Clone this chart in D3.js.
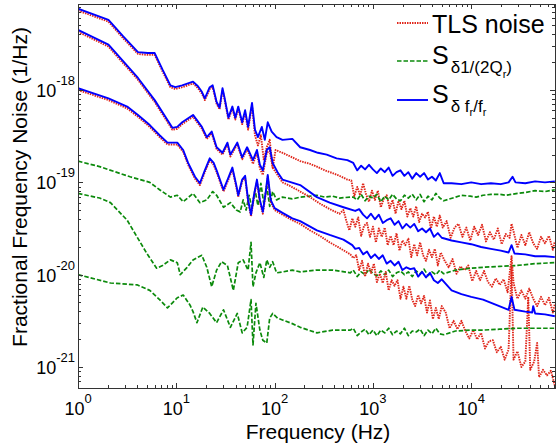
<!DOCTYPE html>
<html>
<head>
<meta charset="utf-8">
<script src="https://d3js.org/d3.v7.min.js"></script>
<style>
  body { margin: 0; background: #fff; }
  svg { display: block; font-family: Arial, "Liberation Sans", sans-serif; }
</style>
</head>
<body>
<div id="chart"></div>
<script>
// Values, stored as [log10(f / Hz), log10(S / (1/Hz))]

// upper data set
var blue1 = [[0.00,-17.12],[0.31,-17.24],[0.46,-17.42],[0.61,-17.59],[0.71,-17.60],[0.78,-17.60],[0.86,-17.78],[0.94,-17.95],[0.99,-17.97],[1.06,-17.95],[1.17,-17.91],[1.22,-17.96],[1.26,-18.02],[1.29,-18.09],[1.34,-17.97],[1.37,-17.95],[1.41,-18.13],[1.44,-18.19],[1.47,-17.98],[1.49,-18.08],[1.53,-18.30],[1.57,-18.18],[1.60,-18.30],[1.63,-18.18],[1.67,-18.35],[1.70,-18.22],[1.73,-18.40],[1.77,-18.14],[1.80,-18.43],[1.83,-18.51],[1.87,-18.40],[1.90,-18.54],[1.93,-18.35],[1.97,-18.45],[2.02,-18.51],[2.08,-18.54],[2.18,-18.53],[2.26,-18.62],[2.36,-18.65],[2.44,-18.68],[2.53,-18.70],[2.63,-18.74],[2.74,-18.76],
  [2.80,-18.79],[2.84,-18.87],[2.88,-18.82],[2.92,-18.86],[2.96,-18.81],[3.00,-18.86],[3.04,-18.90],[3.08,-18.85],[3.12,-18.89],[3.16,-18.84],[3.20,-18.93],[3.24,-18.89],[3.28,-18.87],[3.32,-18.93],[3.36,-18.89],[3.40,-18.96],[3.44,-18.90],[3.48,-18.94],[3.52,-18.90],[3.56,-18.97],[3.60,-18.94],[3.64,-18.98],[3.68,-18.90],[3.72,-19.01],
  [3.80,-19.01],[3.90,-19.02],[4.00,-19.00],[4.10,-19.02],[4.20,-19.01],[4.30,-19.02],[4.38,-19.00],[4.42,-18.94],[4.45,-19.00],[4.55,-19.01],[4.65,-18.99],[4.75,-19.00],[4.85,-18.99]];

var red1 = [[0.00,-17.14],[0.31,-17.26],[0.46,-17.44],[0.61,-17.61],[0.71,-17.62],[0.78,-17.62],[0.86,-17.80],[0.94,-17.97],[0.99,-17.99],[1.06,-17.97],[1.17,-17.93],[1.22,-17.98],[1.26,-18.04],[1.29,-18.11],[1.34,-17.99],[1.37,-17.97],[1.41,-18.15],[1.44,-18.21],[1.47,-18.00],[1.49,-18.10],[1.53,-18.32],[1.57,-18.20],[1.60,-18.32],[1.63,-18.20],[1.67,-18.37],[1.70,-18.25],[1.73,-18.43],
  [1.77,-18.17],[1.80,-18.49],[1.83,-18.60],[1.86,-18.49],[1.89,-18.76],[1.92,-18.62],[1.95,-18.54],[1.98,-18.84],[2.01,-18.65],[2.08,-18.68],[2.18,-18.73],[2.26,-18.77],[2.36,-18.80],[2.43,-18.83],[2.51,-18.87],[2.59,-18.90],[2.66,-18.93],[2.74,-18.97],
  [2.78,-18.98],[2.81,-19.15],[2.84,-19.05],[2.87,-19.14],[2.90,-19.01],[2.93,-19.13],[2.96,-19.21],[2.99,-19.09],[3.02,-19.19],[3.05,-19.09],[3.08,-19.27],[3.11,-19.18],[3.14,-19.14],[3.17,-19.28],[3.20,-19.19],[3.23,-19.34],[3.26,-19.20],[3.29,-19.29],[3.32,-19.20],[3.35,-19.37],[3.38,-19.28],[3.41,-19.37],[3.44,-19.26],[3.47,-19.43],[3.50,-19.34],[3.53,-19.38],[3.56,-19.32],[3.59,-19.50],[3.62,-19.37],[3.65,-19.48],[3.68,-19.36],[3.71,-19.49],
  [3.75,-19.42],[3.79,-19.60],[3.83,-19.49],[3.87,-19.45],[3.91,-19.59],[3.95,-19.49],[3.99,-19.63],[4.03,-19.48],[4.07,-19.57],[4.11,-19.46],[4.15,-19.64],[4.19,-19.54],[4.23,-19.62],[4.27,-19.50],[4.31,-19.67],[4.35,-19.56],[4.39,-19.60],[4.41,-19.45],[4.43,-19.53],[4.47,-19.71],[4.51,-19.57],[4.55,-19.68],[4.59,-19.54],[4.63,-19.66],[4.67,-19.72],[4.71,-19.59],[4.75,-19.66],[4.79,-19.58],[4.83,-19.73],[4.85,-19.64]];

var green1 = [[0.00,-18.77],[0.22,-18.83],[0.53,-18.94],[0.73,-19.00],[0.83,-19.08],[0.94,-19.16],[1.01,-19.14],[1.07,-19.21],[1.17,-19.12],[1.24,-19.22],[1.31,-19.19],[1.37,-19.10],[1.41,-19.14],[1.48,-19.27],[1.55,-19.22],[1.61,-19.30],[1.65,-19.32],[1.68,-19.19],[1.71,-19.30],[1.74,-19.14],[1.77,-19.28],[1.80,-19.08],[1.83,-19.25],[1.86,-19.01],[1.89,-19.23],[1.92,-19.04],[1.95,-19.26],[1.98,-19.10],[2.02,-19.19],[2.08,-19.16],[2.18,-19.18],[2.26,-19.16],[2.36,-19.15],[2.43,-19.14],[2.51,-19.16],[2.59,-19.15],[2.66,-19.17],[2.77,-19.16],
  [2.80,-19.16],[2.84,-19.19],[2.88,-19.13],[2.92,-19.20],[2.96,-19.15],[3.00,-19.17],[3.04,-19.13],[3.08,-19.21],[3.12,-19.15],[3.16,-19.19],[3.20,-19.13],[3.24,-19.18],[3.28,-19.20],[3.32,-19.14],[3.36,-19.17],[3.40,-19.13],[3.44,-19.19],[3.48,-19.13],[3.52,-19.21],[3.56,-19.15],[3.60,-19.19],[3.64,-19.12],[3.68,-19.17],[3.72,-19.20],
  [3.84,-19.16],[3.90,-19.14],[3.99,-19.15],[4.05,-19.16],[4.12,-19.14],[4.20,-19.13],[4.29,-19.13],[4.35,-19.14],[4.47,-19.12],[4.55,-19.11],[4.65,-19.09],[4.75,-19.10],[4.85,-19.08]];

// middle data set
var blue2 = [[0.00,-17.35],[0.31,-17.51],[0.61,-17.87],[0.78,-18.11],[0.96,-18.41],[1.01,-18.40],[1.06,-18.35],[1.17,-18.27],[1.26,-18.40],[1.31,-18.51],[1.36,-18.45],[1.41,-18.62],[1.47,-18.68],[1.52,-18.57],[1.55,-18.70],[1.62,-18.57],[1.67,-18.73],[1.72,-18.62],[1.78,-18.76],[1.82,-18.65],[1.85,-18.81],[1.88,-18.87],[1.92,-18.65],[1.95,-18.62],[1.98,-18.79],[2.03,-18.89],[2.08,-18.97],[2.26,-19.03],[2.43,-19.16],[2.56,-19.22],[2.70,-19.27],[2.82,-19.31],
  [2.86,-19.29],[2.90,-19.35],[2.94,-19.39],[2.98,-19.34],[3.02,-19.40],[3.06,-19.35],[3.10,-19.44],[3.14,-19.41],[3.18,-19.39],[3.22,-19.46],[3.26,-19.42],[3.30,-19.50],[3.34,-19.45],[3.38,-19.49],[3.42,-19.45],[3.46,-19.53],[3.50,-19.50],[3.54,-19.54],[3.58,-19.50],[3.62,-19.59],[3.66,-19.55],[3.70,-19.60],
  [3.80,-19.63],[3.90,-19.65],[4.00,-19.67],[4.10,-19.70],[4.20,-19.72],[4.30,-19.74],[4.38,-19.76],[4.41,-19.68],[4.44,-19.77],[4.55,-19.78],[4.65,-19.80],[4.75,-19.80],[4.85,-19.81]];

var red2 = [[0.00,-17.37],[0.31,-17.53],[0.61,-17.89],[0.78,-18.13],[0.96,-18.43],[1.01,-18.42],[1.06,-18.37],[1.17,-18.29],[1.26,-18.42],[1.31,-18.53],[1.36,-18.47],[1.41,-18.64],[1.47,-18.70],[1.52,-18.59],[1.55,-18.72],[1.62,-18.59],[1.67,-18.75],[1.72,-18.64],[1.78,-18.80],[1.82,-18.68],[1.85,-18.85],[1.88,-18.92],[1.92,-18.68],[1.95,-18.66],[1.98,-18.84],[2.03,-18.92],[2.08,-19.00],
  [2.16,-19.04],[2.26,-19.10],[2.36,-19.16],[2.46,-19.23],[2.56,-19.29],[2.66,-19.34],
  [2.70,-19.30],[2.73,-19.42],[2.76,-19.52],[2.79,-19.39],[2.82,-19.48],[2.85,-19.38],[2.88,-19.58],[2.91,-19.47],[2.94,-19.44],[2.97,-19.59],[3.00,-19.48],[3.03,-19.65],[3.06,-19.50],[3.09,-19.59],[3.12,-19.49],[3.15,-19.68],[3.18,-19.58],[3.21,-19.68],[3.24,-19.55],[3.27,-19.74],[3.30,-19.63],[3.33,-19.68],[3.36,-19.61],[3.39,-19.81],[3.42,-19.67],[3.45,-19.79],[3.48,-19.65],[3.51,-19.79],[3.54,-19.85],[3.57,-19.73],[3.60,-19.81],[3.63,-19.72],[3.66,-19.90],[3.69,-19.76],
  [3.73,-19.85],[3.77,-19.92],[3.81,-19.83],[3.85,-19.99],[3.89,-19.91],[3.93,-19.95],[3.97,-19.90],[4.01,-20.07],[4.05,-19.96],[4.09,-20.06],[4.13,-19.96],[4.17,-20.08],[4.21,-20.13],[4.25,-20.04],[4.29,-20.11],[4.33,-20.05],[4.37,-20.19],[4.41,-19.80],[4.43,-20.09],[4.47,-20.26],[4.51,-20.17],[4.55,-20.26],[4.59,-20.15],[4.63,-20.26],[4.67,-20.34],[4.71,-20.24],[4.75,-20.33],[4.79,-20.25],[4.83,-20.41],[4.85,-20.32]];

var green2 = [[0.00,-19.12],[0.22,-19.17],[0.33,-19.22],[0.50,-19.41],[0.60,-19.59],[0.70,-19.77],[0.80,-19.93],[0.86,-19.90],[0.94,-19.84],[1.01,-19.87],[1.04,-20.00],[1.11,-19.92],[1.17,-19.84],[1.26,-19.79],[1.31,-19.92],[1.36,-20.13],[1.41,-19.95],[1.46,-19.86],[1.52,-19.90],[1.58,-20.17],[1.63,-19.87],[1.68,-19.84],[1.73,-19.95],[1.76,-19.65],[1.78,-20.13],[1.81,-19.98],[1.85,-19.87],[1.89,-20.03],[1.92,-19.84],[1.95,-19.92],[1.98,-19.86],[2.02,-19.98],[2.08,-19.97],[2.18,-19.95],[2.26,-19.97],[2.43,-19.95],[2.59,-19.95],[2.77,-19.98],
  [2.80,-19.95],[2.84,-20.02],[2.88,-19.97],[2.92,-20.00],[2.96,-19.94],[3.00,-19.99],[3.04,-20.01],[3.08,-19.96],[3.12,-20.00],[3.16,-19.95],[3.20,-20.02],[3.24,-19.98],[3.28,-19.96],[3.32,-20.00],[3.36,-19.97],[3.40,-20.02],[3.44,-19.96],[3.48,-19.99],[3.52,-19.94],[3.56,-20.01],[3.60,-19.97],[3.64,-20.00],[3.68,-19.95],[3.72,-19.99],
  [3.84,-19.95],[3.99,-19.93],[4.12,-19.92],[4.29,-19.91],[4.47,-19.90],[4.65,-19.88],[4.85,-19.87]];

// lower data set
var blue3 = [[0.00,-17.98],[0.31,-18.09],[0.50,-18.18],[0.61,-18.27],[0.73,-18.38],[0.83,-18.49],[0.91,-18.57],[1.01,-18.57],[1.07,-18.65],[1.12,-18.79],[1.19,-18.94],[1.24,-19.01],[1.29,-18.87],[1.34,-18.74],[1.38,-18.79],[1.41,-18.87],[1.48,-19.08],[1.53,-18.95],[1.57,-18.84],[1.61,-19.03],[1.63,-19.14],[1.67,-18.97],[1.70,-18.93],[1.73,-19.19],[1.76,-19.35],[1.79,-19.14],[1.82,-18.97],[1.85,-19.19],[1.88,-19.32],[1.91,-19.10],[1.93,-18.92],[1.96,-19.19],[2.00,-19.28],[2.08,-19.33],[2.18,-19.39],[2.26,-19.42],[2.43,-19.52],[2.56,-19.57],[2.70,-19.62],[2.79,-19.68],
  [2.82,-19.72],[2.86,-19.71],[2.90,-19.78],[2.94,-19.75],[2.98,-19.82],[3.02,-19.78],[3.06,-19.83],[3.10,-19.79],[3.14,-19.88],[3.18,-19.85],[3.22,-19.90],[3.26,-19.86],[3.30,-19.95],[3.34,-19.92],[3.38,-19.94],[3.42,-19.93],[3.46,-20.02],[3.50,-19.97],[3.54,-20.03],[3.58,-19.98],[3.62,-20.06],[3.66,-20.09],[3.70,-20.05],
  [3.80,-20.17],[3.90,-20.21],[4.00,-20.24],[4.12,-20.27],[4.26,-20.33],[4.38,-20.38],[4.41,-20.24],[4.44,-20.38],[4.55,-20.40],[4.62,-20.41],[4.63,-20.34],[4.65,-20.42],[4.75,-20.43],[4.85,-20.45]];

var red3 = [[0.00,-18.00],[0.31,-18.11],[0.50,-18.20],[0.61,-18.29],[0.73,-18.40],[0.83,-18.51],[0.91,-18.59],[1.01,-18.59],[1.07,-18.67],[1.12,-18.81],[1.19,-18.96],[1.24,-19.03],[1.29,-18.89],[1.34,-18.76],[1.38,-18.81],[1.41,-18.89],[1.48,-19.10],[1.53,-18.97],[1.57,-18.86],[1.61,-19.05],[1.63,-19.16],[1.67,-18.99],[1.70,-18.95],[1.73,-19.21],[1.76,-19.37],[1.79,-19.16],[1.82,-18.99],[1.85,-19.21],[1.88,-19.34],[1.91,-19.12],[1.93,-18.94],[1.96,-19.21],[2.00,-19.30],[2.08,-19.35],[2.18,-19.41],[2.26,-19.45],
  [2.36,-19.52],[2.46,-19.58],[2.56,-19.65],[2.66,-19.71],[2.77,-19.78],
  [2.80,-19.82],[2.83,-19.79],[2.86,-19.95],[2.89,-19.85],[2.92,-20.02],[2.95,-19.88],[2.98,-19.98],[3.01,-19.88],[3.04,-20.08],[3.07,-19.99],[3.10,-20.09],[3.13,-19.97],[3.16,-20.17],[3.19,-20.06],[3.22,-20.12],[3.25,-20.06],[3.28,-20.26],[3.31,-20.13],[3.34,-20.26],[3.37,-20.12],[3.40,-20.27],[3.43,-20.34],[3.46,-20.22],[3.49,-20.31],[3.52,-20.23],[3.55,-20.41],[3.58,-20.28],[3.61,-20.48],[3.64,-20.36],[3.67,-20.48],[3.70,-20.34],
  [3.74,-20.41],[3.78,-20.58],[3.82,-20.50],[3.86,-20.59],[3.90,-20.50],[3.94,-20.61],[3.98,-20.69],[4.02,-20.60],[4.06,-20.70],[4.10,-20.63],[4.14,-20.80],[4.18,-20.72],[4.22,-20.71],[4.26,-20.84],[4.30,-20.78],[4.34,-20.92],[4.38,-20.81],[4.41,-19.90],[4.43,-20.92],[4.47,-20.83],[4.51,-21.00],[4.55,-20.94],[4.58,-20.24],[4.60,-21.03],[4.64,-20.94],[4.67,-20.74],[4.69,-21.11],[4.73,-21.03],[4.77,-21.09],[4.81,-21.04],[4.85,-21.20]];

var green3 = [[0.00,-20.00],[0.33,-20.09],[0.60,-20.11],[0.73,-20.17],[0.83,-20.27],[0.91,-20.36],[1.01,-20.25],[1.07,-20.22],[1.14,-20.33],[1.17,-20.40],[1.21,-20.52],[1.27,-20.35],[1.34,-20.42],[1.41,-20.52],[1.48,-20.38],[1.55,-20.57],[1.62,-20.42],[1.67,-20.63],[1.72,-20.57],[1.76,-20.27],[1.78,-20.76],[1.81,-20.31],[1.85,-20.60],[1.88,-20.71],[1.92,-20.74],[1.95,-20.47],[1.98,-20.42],[2.03,-20.47],[2.08,-20.49],[2.18,-20.53],[2.26,-20.57],[2.43,-20.63],[2.59,-20.60],[2.77,-20.60],
  [2.80,-20.58],[2.84,-20.66],[2.88,-20.62],[2.92,-20.59],[2.96,-20.65],[3.00,-20.60],[3.04,-20.66],[3.08,-20.60],[3.12,-20.63],[3.16,-20.58],[3.20,-20.65],[3.24,-20.61],[3.28,-20.64],[3.32,-20.58],[3.36,-20.66],[3.40,-20.61],[3.44,-20.62],[3.48,-20.59],[3.52,-20.66],[3.56,-20.60],[3.60,-20.64],[3.64,-20.58],[3.68,-20.64],[3.72,-20.65],
  [3.84,-20.61],[3.99,-20.60],[4.12,-20.60],[4.29,-20.59],[4.47,-20.58],[4.65,-20.58],[4.85,-20.58]];

// axes
var xDomain = [1, 7.11e4];
var yDomain = [5.93e-22, 8.53e-18];
var xMajor = [1, 10, 100, 1000, 10000];
var xExponents = ["0", "1", "2", "3", "4"];
var yMajor = [1e-21, 1e-20, 1e-19, 1e-18];
var yExponents = ["-21", "-20", "-19", "-18"];
var legendNames = ["TLS noise", "S_d1/(2Q_r)", "S_dfr/fr"];

// SVG size and margins
var svgWidth = 557;
var svgHeight = 447;
var margin = { top: 4, right: 2, bottom: 59, left: 78 };
var width = svgWidth - margin.left - margin.right;
var height = svgHeight - margin.top - margin.bottom;

var svg = d3.select("#chart")
  .append("svg")
  .attr("width", svgWidth)
  .attr("height", svgHeight);

var chartGroup = svg.append("g")
  .attr("transform", `translate(${margin.left}, ${margin.top})`);

var xScale = d3.scaleLog().domain(xDomain).range([0, width]);
var yScale = d3.scaleLog().domain(yDomain).range([height, 0]);

var xMinor = xScale.ticks().filter(v => xMajor.indexOf(v) < 0);
var yMinor = yScale.ticks().filter(v => !yMajor.some(m => Math.abs(m - v) / m < 1e-6));

chartGroup.append("clipPath").attr("id", "plotClip")
  .append("rect").attr("width", width).attr("height", height);

// curves
var line = d3.line()
  .x(d => xScale(Math.pow(10, d[0])))
  .y(d => yScale(Math.pow(10, d[1])));

var styles = {
  red: { color: "#e0261a", w: 1.9, dash: "1.5,1" },
  green: { color: "#0b8a0b", w: 1.7, dash: "4.5,2" },
  blue: { color: "#0000ff", w: 1.9, dash: null }
};

var series = [
  [red1, "red"], [green1, "green"], [blue1, "blue"],
  [red2, "red"], [green2, "green"], [blue2, "blue"],
  [red3, "red"], [green3, "green"], [blue3, "blue"]
];

var curves = chartGroup.append("g").attr("clip-path", "url(#plotClip)");
series.forEach(function(s) {
  var st = styles[s[1]];
  curves.append("path")
    .datum(s[0])
    .attr("d", line)
    .attr("fill", "none")
    .attr("stroke", st.color)
    .attr("stroke-width", st.w)
    .attr("stroke-dasharray", st.dash)
    .attr("stroke-linejoin", "round");
});

// ticks on all four sides, pointing inward
function tickAxis(axis, values, size) {
  return axis.tickValues(values).tickSize(-size).tickFormat("");
}
var axisColor = "#333";
var axes = [
  [() => d3.axisBottom(xScale), `translate(0, ${height})`, xMajor, xMinor],
  [() => d3.axisTop(xScale), "translate(0, 0)", xMajor, xMinor],
  [() => d3.axisLeft(yScale), "translate(0, 0)", yMajor, yMinor],
  [() => d3.axisRight(yScale), `translate(${width}, 0)`, yMajor, yMinor]
];
axes.forEach(function(a) {
  [[a[2], 5], [a[3], 3]].forEach(function(t) {
    var g = chartGroup.append("g")
      .attr("transform", a[1])
      .call(tickAxis(a[0](), t[0], t[1]));
    g.select(".domain").remove();
    g.selectAll("line").attr("stroke", axisColor).attr("shape-rendering", "crispEdges");
  });
});

chartGroup.append("rect")
  .attr("width", width)
  .attr("height", height)
  .attr("fill", "none")
  .attr("stroke", axisColor)
  .attr("stroke-width", 1)
  .attr("shape-rendering", "crispEdges");

// tick labels (powers of ten)
var xLabels = chartGroup.selectAll(".xlab")
  .data(xMajor)
  .enter()
  .append("text")
  .attr("x", d => xScale(d))
  .attr("y", height + 27)
  .attr("text-anchor", "middle")
  .attr("font-size", 18)
  .attr("fill", "#000");
xLabels.append("tspan").text("10");
xLabels.append("tspan").attr("font-size", 13).attr("dy", -12).text((d, i) => xExponents[i]);

var yLabels = chartGroup.selectAll(".ylab")
  .data(yMajor)
  .enter()
  .append("text")
  .attr("x", -3)
  .attr("y", d => yScale(d) + 7)
  .attr("text-anchor", "end")
  .attr("font-size", 18)
  .attr("fill", "#000");
yLabels.append("tspan").text("10");
yLabels.append("tspan").attr("font-size", 13).attr("dy", -12).text((d, i) => yExponents[i]);

// axis titles
svg.append("text")
  .attr("x", 318)
  .attr("y", 439)
  .attr("text-anchor", "middle")
  .attr("font-size", 21)
  .text("Frequency (Hz)");

svg.append("text")
  .attr("transform", "translate(27, 187) rotate(-90)")
  .attr("text-anchor", "middle")
  .attr("font-size", 21)
  .text("Fractional Frequency Noise (1/Hz)");

// legend
var legend = svg.append("g");
var legendRows = [
  { style: styles.red, y: 23 },
  { style: styles.green, y: 61 },
  { style: styles.blue, y: 100 }
];
legendRows.forEach(function(r) {
  legend.append("line")
    .attr("x1", 397).attr("x2", 428)
    .attr("y1", r.y).attr("y2", r.y)
    .attr("stroke", r.style.color)
    .attr("stroke-width", r.style.w)
    .attr("stroke-dasharray", r.style.dash);
});

legend.append("text")
  .attr("x", 432).attr("y", 33)
  .attr("font-size", 25)
  .text(legendNames[0]);

var t2 = legend.append("text").attr("x", 432).attr("y", 64).attr("font-size", 25);
t2.append("tspan").text("S");
t2.append("tspan").attr("font-size", 17).attr("dx", 2).attr("dy", 9).text("\u03B41/(2Q");
t2.append("tspan").attr("font-size", 11).attr("dy", 5).text("r");
t2.append("tspan").attr("font-size", 17).attr("dy", -5).text(")");

var t3 = legend.append("text").attr("x", 432).attr("y", 103).attr("font-size", 25);
t3.append("tspan").text("S");
t3.append("tspan").attr("font-size", 17).attr("dx", 2).attr("dy", 9).text("\u03B4 f");
t3.append("tspan").attr("font-size", 11).attr("dy", 4).text("r");
t3.append("tspan").attr("font-size", 17).attr("dy", -4).text("/f");
t3.append("tspan").attr("font-size", 11).attr("dy", 4).text("r");
</script>
</body>
</html>
